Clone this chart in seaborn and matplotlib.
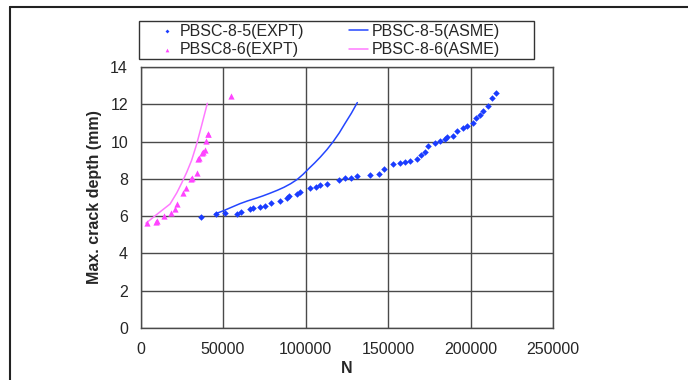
# crack growth: measured vs ASME prediction
import pandas as pd
import matplotlib
matplotlib.use("Agg")
import matplotlib.pyplot as plt
import seaborn as sns
from matplotlib.patches import Rectangle
from matplotlib.lines import Line2D

# PBSC-8-5 experiment
n_85_expt = [36700, 45800, 51200, 58700, 60700, 66400, 68000, 72400, 75500, 78900,
             84500, 88600, 90200, 95000, 96700, 102500, 106600, 108800, 112800, 120500,
             124000, 127400, 131000, 139100, 144700, 147600, 153200, 157300, 160500, 163300,
             167400, 169800, 172400, 174400, 178500, 181500, 184500, 186000, 189600, 191600,
             195600, 197700, 201300, 203300, 205800, 207800, 210800, 213200, 215500]
a_85_expt = [5.97, 6.10, 6.15, 6.12, 6.24, 6.37, 6.42, 6.47, 6.56, 6.72,
             6.83, 6.99, 7.08, 7.19, 7.29, 7.53, 7.59, 7.68, 7.73, 7.94,
             8.07, 8.07, 8.18, 8.21, 8.28, 8.55, 8.78, 8.84, 8.89, 8.96,
             9.07, 9.28, 9.44, 9.76, 9.92, 10.03, 10.14, 10.23, 10.32, 10.58,
             10.75, 10.85, 10.98, 11.25, 11.43, 11.64, 11.91, 12.36, 12.59]

# PBSC-8-6 experiment
n_86_expt = [4100, 9400, 10200, 14400, 18700, 20900, 22300, 25600, 27600, 30600,
             31200, 34000, 35000, 35700, 37500, 38100, 38900, 39700, 40700, 41000, 54800]
a_86_expt = [5.65, 5.67, 5.76, 6.01, 6.15, 6.38, 6.65, 7.26, 7.53, 7.98,
             8.03, 8.30, 9.05, 9.10, 9.37, 9.44, 9.55, 10.05, 10.39, 10.42, 12.45]

# ASME predictions
n_85_asme = [45200, 50000, 55000, 60300, 65000, 70000, 74000, 78500, 83000, 87000,
             91000, 95000, 98500, 102000, 105500, 109000, 113000, 116800, 120500,
             124000, 127800, 131400]
a_85_asme = [6.12, 6.28, 6.47, 6.67, 6.82, 6.96, 7.08, 7.23, 7.39, 7.55,
             7.74, 7.97, 8.24, 8.55, 8.85, 9.17, 9.57, 10.0, 10.47, 10.98, 11.52, 12.09]
n_86_asme = [3300, 10000, 17900, 22000, 25000, 28000, 31000, 34000, 37000, 40500]
a_86_asme = [5.62, 6.10, 6.65, 7.25, 7.78, 8.35, 9.00, 9.85, 10.85, 12.05]

x_ticks = [0, 50000, 100000, 150000, 200000, 250000]
y_ticks = [0, 2, 4, 6, 8, 10, 12, 14]

sns.set_style("white")
plt.rcParams["font.family"] = ["Liberation Sans", "DejaVu Sans"]

fig = plt.figure(figsize=(6.88, 3.8), dpi=100)
fig.patch.set_edgecolor("white")
fig.patch.set_linewidth(0)
ax = fig.add_axes([140.5 / 688, 52 / 380, (553 - 140.5) / 688, (328 - 67) / 380])

blue = "#1a3cff"
pink = "#ff44ff"

sns.scatterplot(x=n_85_expt, y=a_85_expt, marker="D", s=11, color=blue,
                linewidth=0, ax=ax, label="PBSC-8-5(EXPT)", zorder=3)
sns.scatterplot(x=n_86_expt, y=a_86_expt, marker="^", s=20, color=pink,
                linewidth=0, ax=ax, label="PBSC8-6(EXPT)", zorder=3)
sns.lineplot(x=n_85_asme, y=a_85_asme, sort=False, estimator=None, color="#2446ff",
             linewidth=1.1, ax=ax, label="PBSC-8-5(ASME)", zorder=2)
sns.lineplot(x=n_86_asme, y=a_86_asme, sort=False, estimator=None, color="#ff7aff",
             linewidth=1.1, ax=ax, label="PBSC-8-6(ASME)", zorder=2)

ax.set_xlim(0, 250000)
ax.set_ylim(0, 14)
ax.set_xticks(x_ticks)
ax.set_xticklabels([str(t) for t in x_ticks])
ax.set_yticks(y_ticks)
ax.set_axisbelow(True)
ax.grid(True, color="#4a4a4a", linewidth=1)
for sp in ax.spines.values():
    sp.set_color("#4a4a4a")
    sp.set_linewidth(1)
ax.tick_params(direction="out", length=4, width=1, color="#4a4a4a",
               labelsize=11.5, pad=5)
ax.tick_params(axis="x", pad=6)

ax.set_xlabel("N", fontsize=11.5, fontweight="bold", labelpad=3)
ax.set_ylabel("Max. crack depth (mm)", fontsize=11.5, fontweight="bold", labelpad=6)

handles, labels = ax.get_legend_handles_labels()
ax.get_legend().remove()
fig.legend(handles, labels, ncol=2, loc="center left",
           bbox_to_anchor=(157.5 / 688, (380 - 40.5) / 380),
           frameon=False, fontsize=11.5, borderpad=0, borderaxespad=0,
           handlelength=1.2, handletextpad=0.2, columnspacing=2.8,
           labelspacing=0.25, markerscale=0.6)

# legend box
fig.patches.append(Rectangle((139 / 688, (380 - 59) / 380), 395 / 688, 38 / 380,
                             transform=fig.transFigure, fill=False,
                             edgecolor="#333333", linewidth=1))
# outer chart border, only left and top show
top_y = (380 - 7) / 380
left_x = 9.5 / 688
fig.lines.append(Line2D([left_x, left_x], [0, top_y], transform=fig.transFigure,
                        color="#222222", linewidth=1.5))
fig.lines.append(Line2D([left_x, 1], [top_y, top_y], transform=fig.transFigure,
                        color="#222222", linewidth=1.5))

fig.savefig("out.png", dpi=100)
